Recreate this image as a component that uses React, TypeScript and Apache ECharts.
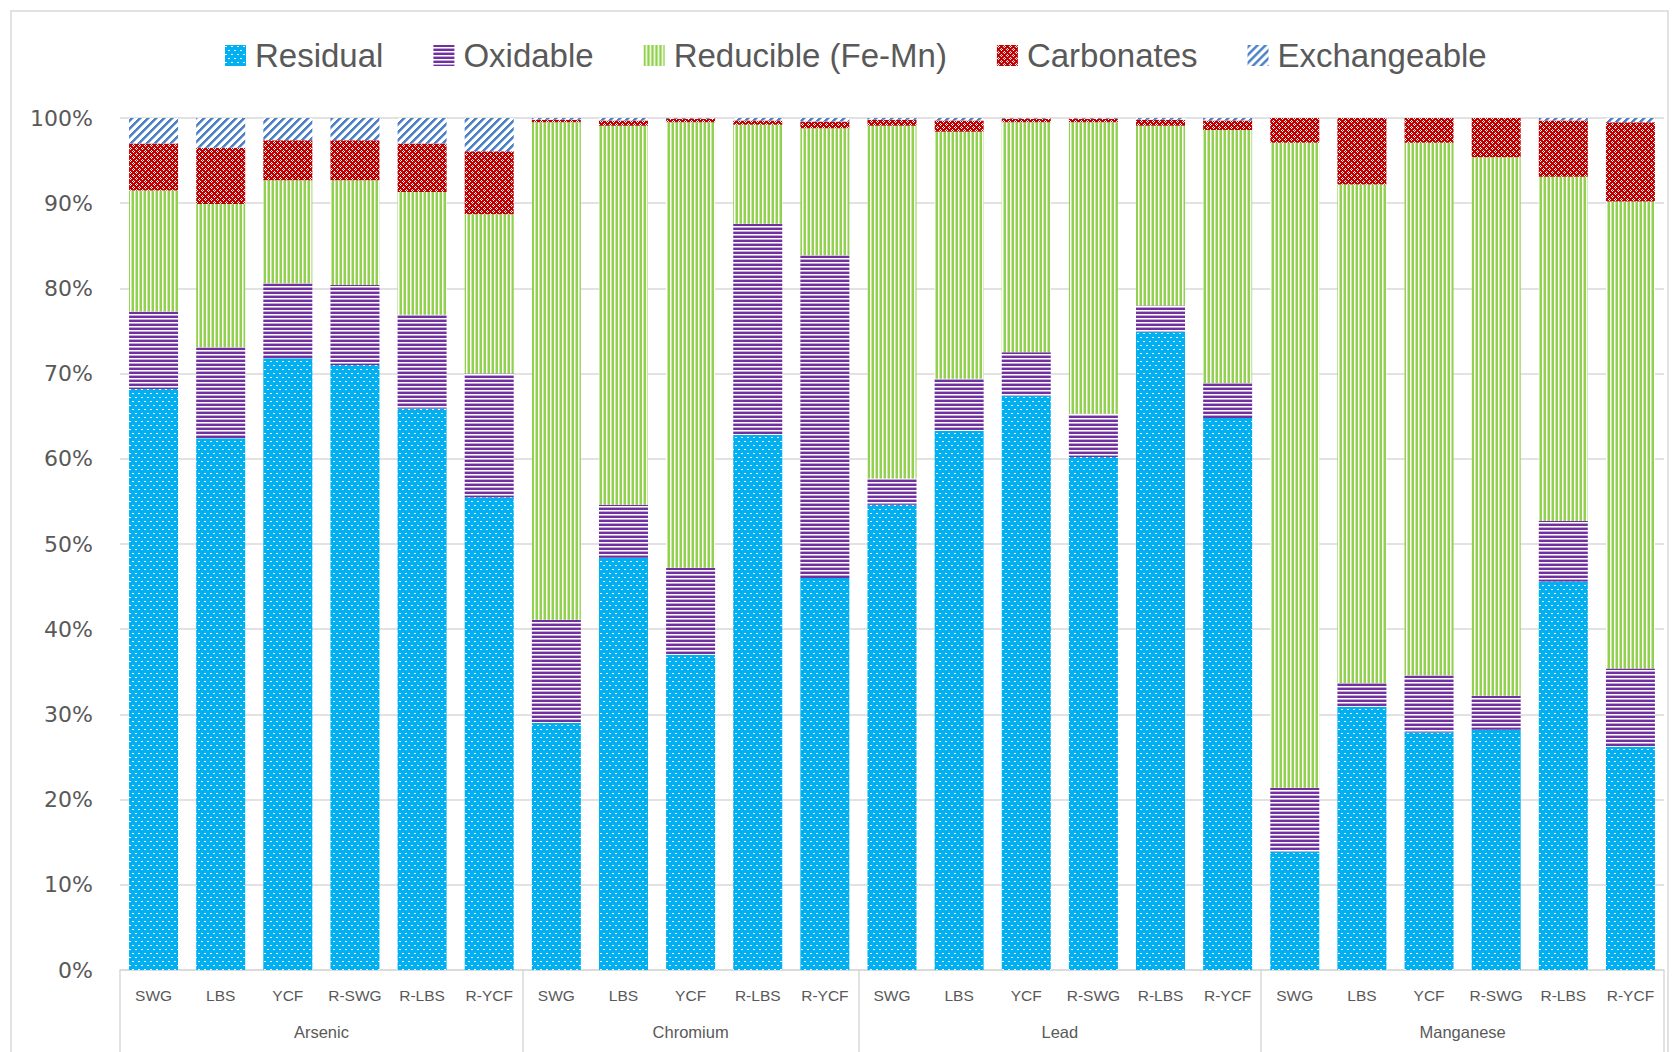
import React, { useEffect, useRef } from "react";
import * as echarts from "echarts";

const samples = [
  "SWG", "LBS", "YCF", "R-SWG", "R-LBS", "R-YCF",
  "SWG", "LBS", "YCF", "R-LBS", "R-YCF",
  "SWG", "LBS", "YCF", "R-SWG", "R-LBS", "R-YCF",
  "SWG", "LBS", "YCF", "R-SWG", "R-LBS", "R-YCF",
];
const groups = ["Arsenic", "Chromium", "Lead", "Manganese"];
const groupSizes = [6, 5, 6, 6];

const seriesNames = ["Residual", "Oxidable", "Reducible (Fe-Mn)", "Carbonates", "Exchangeable"];

const residual = [
  68.2, 62.4, 71.8, 71.0, 65.9, 55.5,
  29.0, 48.4, 37.0, 62.8, 46.0,
  54.6, 63.3, 67.4, 60.2, 74.9, 64.8,
  13.9, 30.9, 27.9, 28.2, 45.6, 26.2,
];
const oxidable = [
  9.1, 10.7, 8.8, 9.4, 11.0, 14.5,
  12.1, 6.2, 10.2, 24.8, 37.9,
  3.1, 6.1, 5.1, 5.1, 3.1, 4.1,
  7.5, 2.8, 6.7, 4.0, 7.1, 9.2,
];
const reducible = [
  14.2, 16.8, 12.1, 12.3, 14.4, 18.7,
  58.4, 44.5, 52.3, 11.6, 14.9,
  41.4, 29.0, 27.0, 34.2, 21.1, 29.7,
  75.7, 58.5, 62.5, 63.2, 40.4, 54.8,
];
const carbonates = [
  5.5, 6.6, 4.7, 4.7, 5.7, 7.4,
  0.3, 0.6, 0.4, 0.5, 0.8,
  0.7, 1.3, 0.4, 0.4, 0.7, 1.1,
  2.9, 7.8, 2.9, 4.6, 6.6, 9.3,
];
const exchangeable = [
  3.0, 3.5, 2.6, 2.6, 3.0, 3.9,
  0.2, 0.3, 0.1, 0.3, 0.4,
  0.2, 0.3, 0.1, 0.1, 0.2, 0.3,
  0.0, 0.0, 0.0, 0.0, 0.3, 0.5,
];

const seriesValues = [residual, oxidable, reducible, carbonates, exchangeable];

function makeTile(w: number, h: number, paint: (ctx: CanvasRenderingContext2D) => void) {
  const c = document.createElement("canvas");
  c.width = w;
  c.height = h;
  const ctx = c.getContext("2d") as CanvasRenderingContext2D;
  paint(ctx);
  return { image: c, repeat: "repeat", imageWidth: w, imageHeight: h } as any;
}

function buildPatterns() {
  const residualP = makeTile(6, 8, (ctx) => {
    ctx.fillStyle = "#00B0F0";
    ctx.fillRect(0, 0, 6, 8);
    ctx.fillStyle = "#ffffff";
    ctx.fillRect(0, 1, 2, 1);
    ctx.fillRect(3, 5, 2, 1);
  });
  const oxidableP = makeTile(4, 4, (ctx) => {
    ctx.fillStyle = "#ffffff";
    ctx.fillRect(0, 0, 4, 4);
    ctx.fillStyle = "#7030A0";
    ctx.fillRect(0, 0, 4, 2);
    ctx.fillStyle = "#c3a5da";
    ctx.fillRect(0, 3, 4, 1);
  });
  const reducibleP = makeTile(4, 4, (ctx) => {
    ctx.fillStyle = "#ffffff";
    ctx.fillRect(0, 0, 4, 4);
    ctx.fillStyle = "#92D050";
    ctx.fillRect(0, 0, 2, 4);
    ctx.fillStyle = "#c8e8a4";
    ctx.fillRect(3, 0, 1, 4);
  });
  const carbonatesP = makeTile(6, 6, (ctx) => {
    ctx.fillStyle = "#C00000";
    ctx.fillRect(0, 0, 6, 6);
    ctx.fillStyle = "#ffffff";
    const pts = [
      [1, 0], [0, 1], [2, 1], [1, 2],
      [4, 3], [3, 4], [5, 4], [4, 5],
    ];
    pts.forEach(([x, y]) => ctx.fillRect(x, y, 1, 1));
  });
  const exchangeableP = makeTile(8, 8, (ctx) => {
    for (let y = 0; y < 8; y++) {
      for (let x = 0; x < 8; x++) {
        const m = (x + y) % 8;
        ctx.fillStyle = m < 3 ? "#4F81C7" : m === 3 ? "#9fbde3" : "#ffffff";
        ctx.fillRect(x, y, 1, 1);
      }
    }
  });
  return [residualP, oxidableP, reducibleP, carbonatesP, exchangeableP];
}

export default function App() {
  const ref = useRef<HTMLDivElement>(null);

  useEffect(() => {
    document.body.style.margin = "0";
    if (!ref.current) return;
    const chart = echarts.init(ref.current, undefined, { renderer: "svg" });
    const patterns = buildPatterns();

    const boundaries: number[] = [0];
    const centers: number[] = [];
    let acc = 0;
    groupSizes.forEach((s) => {
      centers.push(acc + s / 2);
      acc += s;
      boundaries.push(acc);
    });

    const sans = "'Liberation Sans', Arial, sans-serif";
    const labelColor = "#595959";

    chart.setOption({
      animation: false,
      backgroundColor: "#ffffff",
      graphic: [
        {
          type: "rect",
          shape: { x: 11, y: 11, width: 1657, height: 1100 },
          style: { fill: "none", stroke: "#d9d9d9", lineWidth: 1.5 },
          silent: true,
          z: -10,
        },
      ],
      legend: {
        data: seriesNames,
        left: 220,
        top: 34,
        icon: "rect",
        itemWidth: 21,
        itemHeight: 21,
        itemGap: 50,
        textStyle: {
          fontFamily: sans,
          fontSize: 33,
          color: labelColor,
          padding: [0, 0, 0, 4],
        },
      },
      grid: { left: 120, right: 8, top: 118, bottom: 82, containLabel: false },
      xAxis: [
        {
          type: "category",
          data: samples,
          gridIndex: 0,
          position: "bottom",
          axisLine: { show: true, lineStyle: { color: "#d9d9d9", width: 1.5 } },
          axisTick: { show: false },
          axisLabel: {
            interval: 0,
            margin: 17,
            fontFamily: sans,
            fontSize: 15.5,
            color: labelColor,
          },
          splitLine: { show: false },
        },
        {
          type: "value",
          gridIndex: 0,
          position: "bottom",
          min: 0,
          max: samples.length,
          axisLine: { show: false },
          splitLine: { show: false },
          axisTick: {
            show: true,
            customValues: boundaries,
            length: 100,
            lineStyle: { color: "#d9d9d9", width: 1.5 },
          },
          axisLabel: {
            customValues: centers,
            formatter: (v: number) => {
              const i = centers.findIndex((c) => Math.abs(c - v) < 1e-6);
              return i >= 0 ? groups[i] : "";
            },
            margin: 53,
            fontFamily: sans,
            fontSize: 16.5,
            color: labelColor,
          },
        },
      ],
      yAxis: {
        type: "value",
        min: 0,
        max: 100,
        interval: 10,
        axisLine: { show: false },
        axisTick: { show: false },
        splitLine: { lineStyle: { color: "#d9d9d9", width: 1.5 } },
        axisLabel: {
          formatter: "{value}%",
          margin: 27,
          fontFamily: "'DejaVu Sans', Verdana, sans-serif",
          fontSize: 22,
          color: labelColor,
        },
      },
      series: seriesNames.map((name, i) => ({
        name,
        type: "bar",
        stack: "total",
        xAxisIndex: 0,
        barCategoryGap: "27%",
        data: seriesValues[i],
        itemStyle: { color: patterns[i] },
        emphasis: { disabled: true },
      })),
    });

    return () => chart.dispose();
  }, []);

  return <div ref={ref} style={{ width: 1672, height: 1052 }} />;
}
